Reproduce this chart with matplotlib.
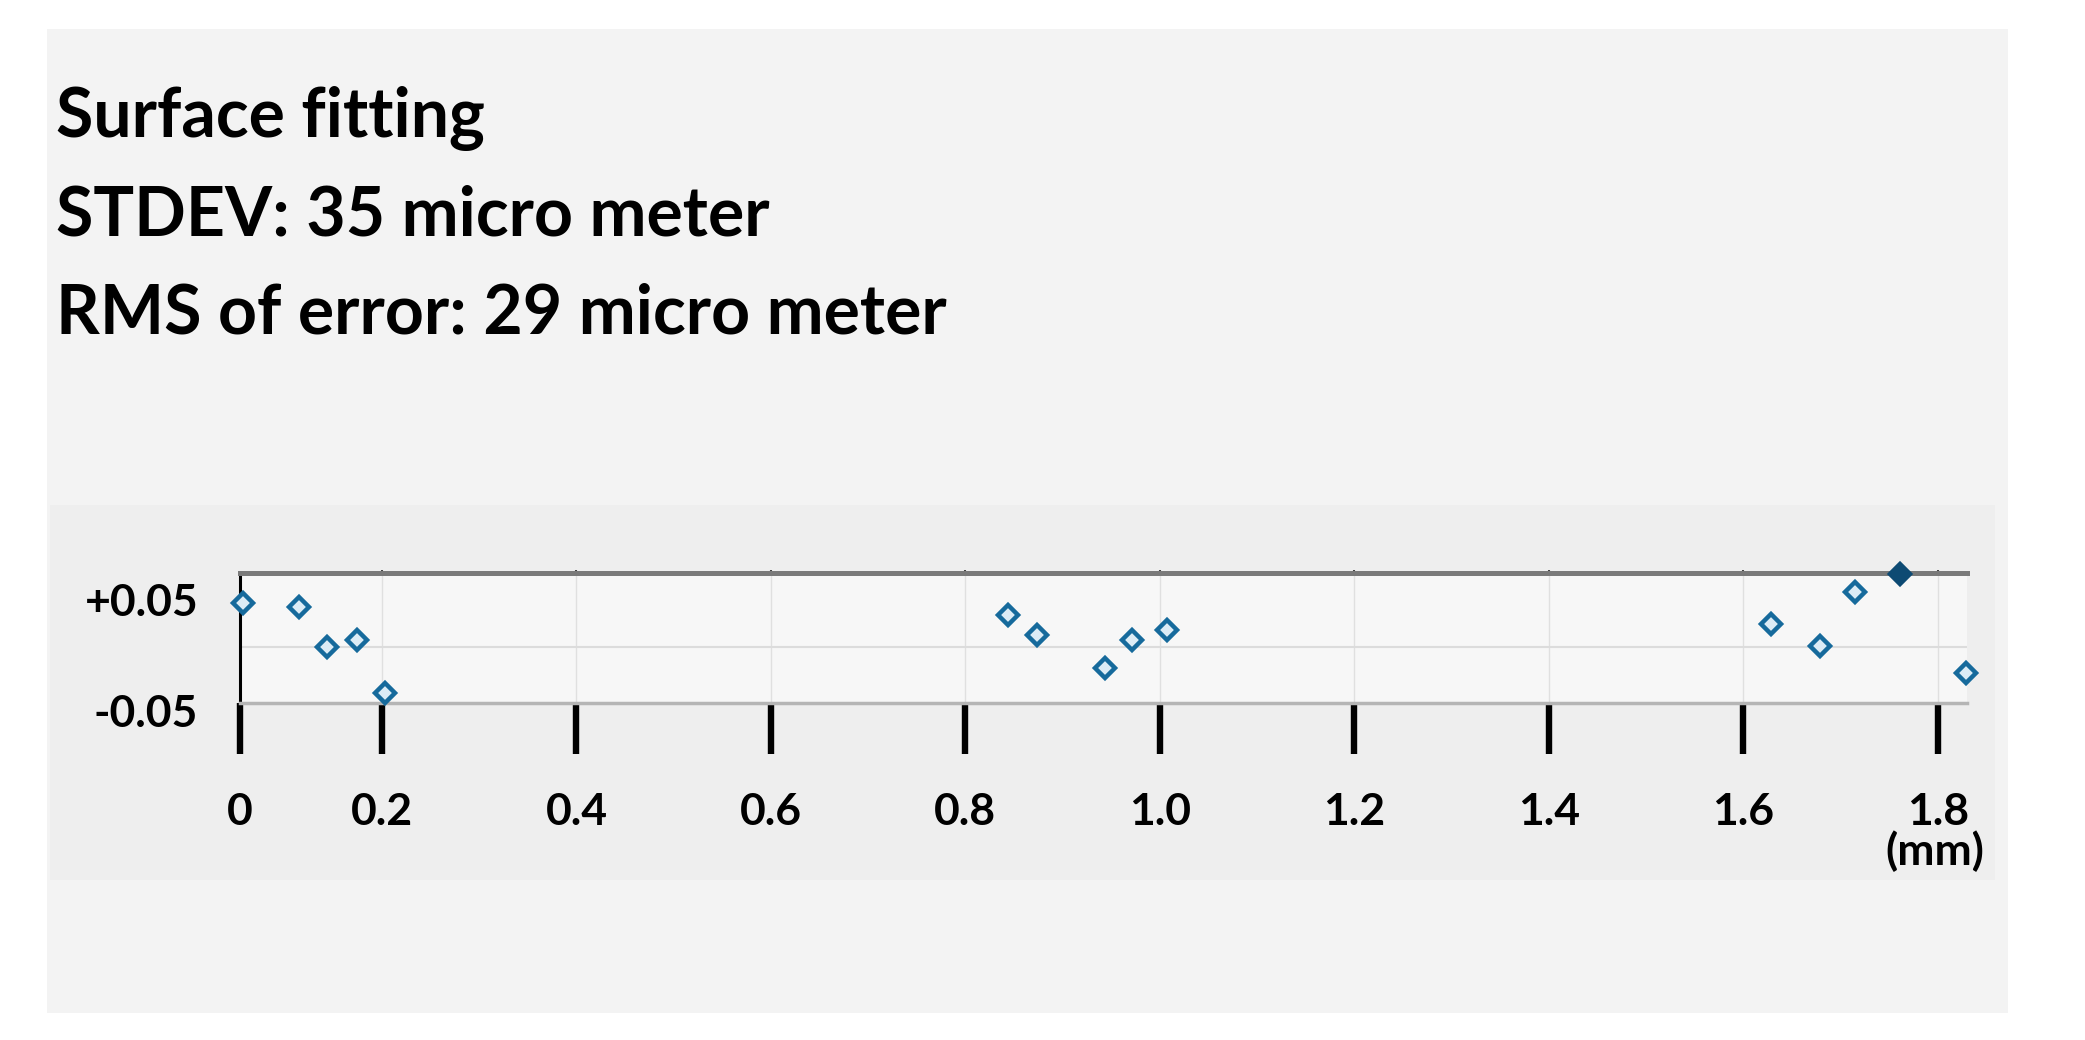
import numpy as np
import matplotlib.pyplot as plt
from matplotlib.patches import Rectangle
from matplotlib.transforms import ScaledTranslation

# measured points (mm, mm)
pos_x = [0.057, 0.115, 0.143, 0.174, 0.203,
         0.844, 0.874, 0.944, 0.971, 1.007,
         1.628, 1.679, 1.715, 1.761, 1.829]
err_y = [0.042, 0.038, 0.000, 0.007, -0.044,
         0.030, 0.011, -0.020, 0.007, 0.016,
         0.022, 0.001, 0.052, 0.069, -0.025]
filled = [False] * 13 + [True, False]

x_lo = 0.054
xtick_pos = [x_lo, 0.2, 0.4, 0.6, 0.8, 1.0, 1.2, 1.4, 1.6, 1.8]
xtick_lab = ["0", "0.2", "0.4", "0.6", "0.8", "1.0", "1.2", "1.4", "1.6", "1.8"]
ytick_pos = [0.05, -0.05]
ytick_lab = ["+0.05", "-0.05"]

header = ["Surface fitting", "STDEV: 35 micro meter", "RMS of error: 29 micro meter"]

W, H = 2085, 1040
fig = plt.figure(figsize=(W / 100, H / 100), dpi=100)
fig.patch.set_facecolor("white")

def fx(px):
    return px / W

def fy(py):
    return 1 - py / H

# light gray page and chart strip
fig.patches.append(Rectangle((fx(47), fy(1013)), fx(2008) - fx(47), fy(29) - fy(1013),
                             transform=fig.transFigure, facecolor="#f3f3f3", edgecolor="none", zorder=-10))
fig.patches.append(Rectangle((fx(50), fy(880)), fx(1995) - fx(50), fy(505) - fy(880),
                             transform=fig.transFigure, facecolor="#eeeeee", edgecolor="none", zorder=-9))

for i, line in enumerate(header):
    fig.text(fx(56), fy(137 + 98 * i), line, fontsize=49, family="Lato", fontweight="bold",
             color="black", va="baseline", ha="left")

ax = fig.add_axes([fx(240), fy(703), fx(1967) - fx(240), fy(573) - fy(703)])
ax.set_zorder(1)
ax.set_facecolor("#f7f7f7")
ax.set_xlim(x_lo, 1.830)
ax.set_ylim(-0.053, 0.07)

ax.spines["right"].set_visible(False)
ax.spines["top"].set_color("#7a7a7a")
ax.spines["top"].set_linewidth(3.6)
ax.spines["bottom"].set_color("#b5b5b5")
ax.spines["bottom"].set_linewidth(2.5)
ax.spines["left"].set_color("black")
ax.spines["left"].set_linewidth(2.2)

ax.grid(axis="x", color="#e0e0e0", lw=1)
ax.axhline(0, color="#dcdcdc", lw=1.5)

ax.set_xticks(xtick_pos)
ax.set_xticklabels(xtick_lab, fontsize=32, fontweight="bold", family="Lato")
ax.tick_params(axis="x", direction="out", length=37, width=4.6, color="black", pad=27)
ax.set_yticks(ytick_pos)
ax.set_yticklabels(ytick_lab, fontsize=32, fontweight="bold", family="Lato")
ax.tick_params(axis="y", length=0, pad=30)
# the labels sit a little off their lines in the original
ylabs = ax.get_yticklabels()
ylabs[0].set_transform(ylabs[0].get_transform() + ScaledTranslation(0, -5 / 100, fig.dpi_scale_trans))
ylabs[1].set_transform(ylabs[1].get_transform() + ScaledTranslation(0, -11 / 100, fig.dpi_scale_trans))

top = ax.secondary_xaxis("top")
top.set_xticks(xtick_pos[1:])
top.set_xticklabels([])
top.tick_params(length=4, direction="inout", width=1.5, color="#444444")
top.spines["top"].set_visible(False)

px = np.array(pos_x)
py = np.array(err_y)
mask = np.array(filled)
ax.plot(px[~mask], py[~mask], "D", ms=10, mfc="#dcecf6", mec="#166a9c", mew=3.2,
        clip_on=False, zorder=5)
ax.plot(px[mask], py[mask], "D", ms=10, mfc="#0d4a73", mec="#0d4a73", mew=3.2,
        clip_on=False, zorder=5)

fig.text(fx(1935), fy(851), "(mm)", fontsize=32, fontweight="bold", family="Lato",
         ha="center", va="center")

fig.savefig("out.png", dpi=100)
